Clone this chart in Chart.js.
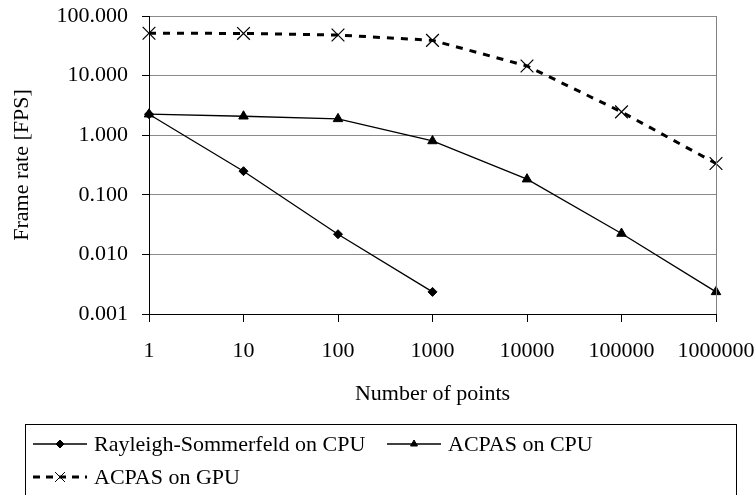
<!DOCTYPE html>
<html>
<head>
    <title>Frame rate vs number of points</title>
    <script src="https://cdn.jsdelivr.net/npm/chart.js"></script>
    <style>
        body { margin: 0; background: #fff; }
    </style>
</head>
<body>
    <canvas id="myChart" width="756" height="495"></canvas>

    <script>
        // dati
        const pointCounts = ['1', '10', '100', '1000', '10000', '100000', '1000000'];
        const rsCpu = [2.25, 0.249, 0.0218, 0.00235, null, null, null];
        const acpasCpu = [2.25, 2.08, 1.88, 0.80, 0.183, 0.0224, 0.00235];
        const acpasGpu = [51.4, 51.0, 48.0, 39.0, 14.5, 2.46, 0.335];
        const yTicks = [0.001, 0.01, 0.1, 1, 10, 100];
        const seriesNames = ['Rayleigh-Sommerfeld on CPU', 'ACPAS on CPU', 'ACPAS on GPU'];

        const FONT = "'Liberation Serif', 'Times New Roman', serif";

        // bordo destro dell'area del grafico
        const frameBorder = {
            id: 'frameBorder',
            afterDatasetsDraw(chart) {
                const { ctx, chartArea } = chart;
                ctx.save();
                ctx.strokeStyle = '#808080';
                ctx.lineWidth = 1;
                ctx.beginPath();
                ctx.moveTo(chartArea.right + 0.5, chartArea.top);
                ctx.lineTo(chartArea.right + 0.5, chartArea.bottom);
                ctx.stroke();
                ctx.restore();
            }
        };

        // legenda con bordo, come nell'originale
        const boxLegend = {
            id: 'boxLegend',
            afterDraw(chart) {
                const ctx = chart.ctx;
                const slots = [[33, 444], [387, 444], [33, 477]];
                ctx.save();
                ctx.strokeStyle = '#000';
                ctx.lineWidth = 1;
                ctx.strokeRect(25.5, 424.5, 711, 90);
                ctx.font = '22px ' + FONT;
                ctx.textBaseline = 'middle';
                chart.data.datasets.forEach((ds, i) => {
                    const [x, y] = slots[i];
                    ctx.strokeStyle = '#000';
                    ctx.fillStyle = '#000';
                    ctx.lineWidth = i === 2 ? 3 : 1.3;
                    ctx.setLineDash(i === 2 ? [7, 6] : []);
                    ctx.beginPath();
                    ctx.moveTo(x, y);
                    ctx.lineTo(x + 54, y);
                    ctx.stroke();
                    ctx.setLineDash([]);
                    ctx.lineWidth = 1;
                    Chart.helpers.drawPoint(ctx, {
                        pointStyle: ds.pointStyle,
                        radius: i === 2 ? 7 : 4,
                        borderWidth: 1,
                        rotation: 0
                    }, x + 27, y);
                    ctx.fillStyle = '#000';
                    ctx.fillText(ds.label, x + 61, y + 1);
                });
                ctx.restore();
            }
        };

        const ctx = document.getElementById('myChart').getContext('2d');

        new Chart(ctx, {
            type: 'line',
            data: {
                labels: pointCounts,
                datasets: [{
                    label: seriesNames[0],
                    data: rsCpu,
                    borderColor: '#000',
                    backgroundColor: '#000',
                    borderWidth: 1.3,
                    pointStyle: 'rectRot',
                    pointRadius: 4.5,
                    pointBorderWidth: 1
                }, {
                    label: seriesNames[1],
                    data: acpasCpu,
                    borderColor: '#000',
                    backgroundColor: '#000',
                    borderWidth: 1.3,
                    pointStyle: 'triangle',
                    pointRadius: 5.5,
                    pointBorderWidth: 1
                }, {
                    label: seriesNames[2],
                    data: acpasGpu,
                    borderColor: '#000',
                    backgroundColor: '#000',
                    borderWidth: 3,
                    borderDash: [7, 7],
                    pointStyle: 'crossRot',
                    pointRadius: 9,
                    pointBorderWidth: 1.2
                }]
            },
            options: {
                responsive: false,
                animation: false,
                devicePixelRatio: 1,
                layout: {
                    padding: { top: 16, right: 40, bottom: 81, left: 0 }
                },
                plugins: {
                    legend: { display: false },
                    tooltip: { enabled: false }
                },
                scales: {
                    x: {
                        type: 'category',
                        offset: false,
                        afterFit(scale) {
                            scale.height = 100;
                            scale.paddingLeft = 0;
                            scale.paddingRight = 0;
                        },
                        grid: {
                            drawOnChartArea: false,
                            drawTicks: true,
                            tickLength: 8,
                            tickColor: '#000'
                        },
                        border: { color: '#000', width: 1 },
                        ticks: {
                            color: '#000',
                            font: { family: FONT, size: 22 },
                            padding: 16,
                            maxRotation: 0,
                            autoSkip: false
                        },
                        title: {
                            display: true,
                            text: 'Number of points',
                            color: '#000',
                            font: { family: FONT, size: 22 },
                            padding: { top: 0, bottom: 7 }
                        }
                    },
                    y: {
                        type: 'logarithmic',
                        min: 0.001,
                        max: 100,
                        afterFit(scale) {
                            scale.width = 149;
                            scale.paddingTop = 0;
                            scale.paddingBottom = 0;
                        },
                        afterBuildTicks(scale) {
                            scale.ticks = yTicks.map(v => ({ value: v }));
                        },
                        grid: {
                            color: '#8a8a8a',
                            tickColor: '#000',
                            tickLength: 7
                        },
                        border: { color: '#000', width: 1 },
                        ticks: {
                            color: '#000',
                            font: { family: FONT, size: 22 },
                            padding: 14,
                            callback: v => Number(v).toFixed(3)
                        },
                        title: {
                            display: true,
                            text: 'Frame rate [FPS]',
                            color: '#000',
                            font: { family: FONT, size: 22 },
                            padding: { top: 9, bottom: 0 }
                        }
                    }
                }
            },
            plugins: [frameBorder, boxLegend]
        });
    </script>
</body>
</html>
